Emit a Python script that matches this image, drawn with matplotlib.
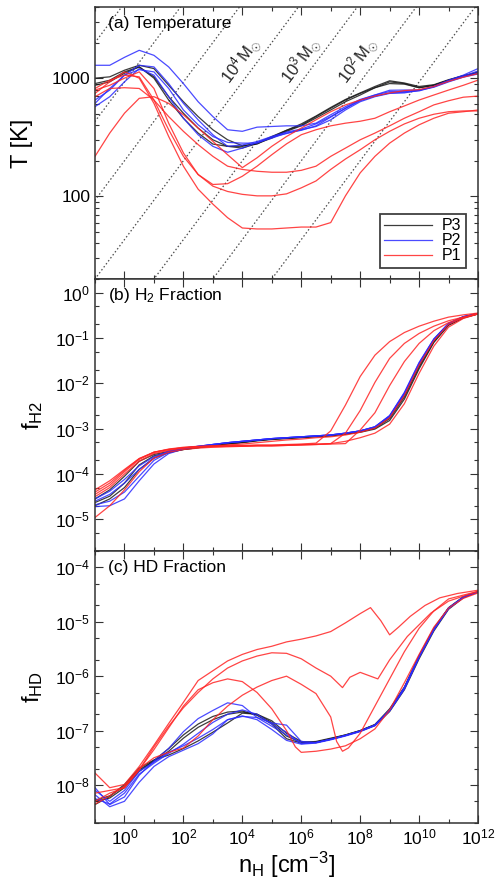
import numpy as np
import matplotlib.pyplot as plt
from matplotlib.ticker import FixedLocator, FixedFormatter, LogLocator, NullFormatter, LogFormatterSciNotation

plt.rcParams['font.family'] = ['Liberation Sans', 'DejaVu Sans']
plt.rcParams['mathtext.fontset'] = 'custom'
plt.rcParams['mathtext.rm'] = 'Liberation Sans'
plt.rcParams['mathtext.it'] = 'Liberation Sans:italic'
plt.rcParams['mathtext.bf'] = 'Liberation Sans:bold'

# log10 of n_H [cm^-3] where the curves were read
logn = [-1, -0.5, 0, 0.5, 1, 1.5, 2, 2.5, 3, 3.5, 4, 4.5, 5, 5.5, 6,
        6.5, 7, 7.5, 8, 8.5, 9, 9.5, 10, 10.5, 11, 11.5, 12]

# (a) temperature [K]
T_p3 = [
    [900, 960, 1130, 1245, 1000, 653, 458, 343, 277, 265, 265, 282, 321, 362, 400, 473, 556, 653, 743, 830, 930, 900, 830, 870, 960, 1040, 1130],
    [1000, 1026, 1167, 1285, 1205, 870, 632, 473, 366, 301, 268, 277, 317, 362, 410, 478, 565, 660, 750, 850, 950, 910, 850, 880, 970, 1050, 1110],
    [870, 931, 1100, 1245, 1026, 697, 505, 378, 301, 265, 256, 280, 311, 355, 395, 460, 538, 632, 720, 830, 900, 890, 830, 870, 960, 1050, 1094],
]
T_p2 = [
    [1285, 1285, 1500, 1720, 1560, 1245, 900, 632, 473, 366, 355, 385, 390, 395, 395, 416, 490, 574, 660, 720, 790, 793, 793, 850, 960, 1060, 1205],
    [653, 793, 1060, 1285, 1245, 900, 612, 444, 332, 265, 272, 291, 321, 350, 371, 410, 473, 556, 653, 720, 770, 770, 790, 850, 950, 1040, 1150],
    [574, 697, 931, 1205, 1060, 697, 458, 332, 265, 236, 256, 286, 311, 343, 362, 395, 468, 556, 644, 705, 750, 760, 780, 845, 940, 1026, 1110],
    [612, 818, 1060, 1180, 1130, 818, 538, 403, 321, 286, 282, 282, 317, 340, 366, 390, 444, 538, 632, 697, 743, 750, 790, 838, 930, 1020, 1085],
]
T_p1 = [
    [793, 870, 1000, 1130, 818, 416, 233, 153, 126, 128, 148, 180, 225, 278, 332, 366, 395, 416, 432, 458, 520, 582, 653, 720, 793, 870, 962],
    [697, 818, 830, 818, 653, 473, 355, 274, 218, 180, 169, 163, 160, 160, 166, 180, 218, 256, 301, 343, 395, 458, 520, 594, 644, 690, 705],
    [818, 962, 1060, 1026, 653, 366, 218, 153, 122, 110, 104, 101, 101, 105, 118, 135, 169, 207, 248, 301, 355, 410, 458, 495, 520, 528, 528],
    [743, 931, 1130, 1000, 612, 321, 180, 115, 86, 66, 54, 53, 53, 54, 55, 55, 60, 101, 158, 218, 282, 343, 403, 458, 505, 520, 538],
    [218, 343, 505, 675, 697, 612, 490, 378, 292, 225, 175, 212, 265, 321, 378, 444, 520, 594, 653, 705, 750, 785, 800, 850, 940, 1020, 1094],
]

# (b) log10 f_H2
fh2_p3 = [
    [-4.63, -4.49, -4.20, -3.80, -3.60, -3.52, -3.46, -3.42, -3.37, -3.33, -3.30, -3.26, -3.23, -3.21, -3.19, -3.17, -3.15, -3.11, -3.06, -2.98, -2.75, -2.26, -1.60, -1.05, -0.69, -0.54, -0.46],
    [-4.55, -4.35, -4.05, -3.72, -3.57, -3.50, -3.45, -3.41, -3.37, -3.33, -3.30, -3.26, -3.23, -3.21, -3.19, -3.17, -3.15, -3.12, -3.08, -3.01, -2.82, -2.35, -1.68, -1.10, -0.72, -0.56, -0.47],
    [-4.70, -4.55, -4.30, -3.90, -3.65, -3.53, -3.46, -3.42, -3.38, -3.34, -3.31, -3.27, -3.24, -3.22, -3.20, -3.18, -3.16, -3.12, -3.07, -2.99, -2.78, -2.30, -1.64, -1.08, -0.71, -0.55, -0.47],
]
fh2_p2 = [
    [-4.72, -4.70, -4.55, -4.15, -3.78, -3.55, -3.45, -3.40, -3.35, -3.31, -3.28, -3.25, -3.22, -3.20, -3.18, -3.16, -3.14, -3.10, -3.05, -2.96, -2.72, -2.22, -1.56, -1.03, -0.68, -0.53, -0.46],
    [-4.68, -4.60, -4.40, -4.05, -3.70, -3.52, -3.44, -3.39, -3.35, -3.31, -3.28, -3.25, -3.22, -3.20, -3.18, -3.16, -3.14, -3.10, -3.05, -2.96, -2.72, -2.22, -1.56, -1.03, -0.68, -0.53, -0.46],
    [-4.60, -4.45, -4.20, -3.90, -3.65, -3.50, -3.43, -3.39, -3.35, -3.31, -3.28, -3.25, -3.22, -3.20, -3.18, -3.16, -3.14, -3.10, -3.05, -2.97, -2.74, -2.24, -1.58, -1.04, -0.69, -0.54, -0.46],
    [-4.55, -4.38, -4.12, -3.82, -3.62, -3.50, -3.43, -3.39, -3.35, -3.31, -3.28, -3.25, -3.22, -3.20, -3.18, -3.16, -3.14, -3.10, -3.05, -2.96, -2.71, -2.20, -1.54, -1.02, -0.68, -0.53, -0.46],
]
fh2_p1 = [
    [-4.45, -4.25, -3.95, -3.68, -3.52, -3.45, -3.41, -3.39, -3.38, -3.37, -3.37, -3.36, -3.36, -3.35, -3.34, -3.32, -3.05, -2.48, -1.85, -1.38, -1.08, -0.88, -0.74, -0.63, -0.54, -0.49, -0.45],
    [-4.35, -4.15, -3.90, -3.66, -3.52, -3.46, -3.42, -3.40, -3.39, -3.38, -3.38, -3.37, -3.37, -3.36, -3.35, -3.34, -3.33, -3.10, -2.60, -1.98, -1.45, -1.12, -0.90, -0.74, -0.62, -0.54, -0.47],
    [-4.50, -4.30, -4.00, -3.72, -3.55, -3.48, -3.43, -3.41, -3.40, -3.39, -3.39, -3.38, -3.38, -3.37, -3.36, -3.35, -3.34, -3.33, -3.03, -2.65, -2.05, -1.52, -1.12, -0.84, -0.66, -0.55, -0.47],
    [-4.96, -4.70, -4.35, -3.95, -3.65, -3.52, -3.46, -3.43, -3.41, -3.40, -3.39, -3.38, -3.38, -3.37, -3.36, -3.35, -3.33, -3.28, -3.20, -3.10, -2.90, -2.45, -1.78, -1.18, -0.76, -0.57, -0.47],
    [-4.40, -4.20, -3.92, -3.66, -3.52, -3.46, -3.42, -3.40, -3.38, -3.36, -3.34, -3.31, -3.28, -3.25, -3.23, -3.20, -3.18, -3.14, -3.08, -2.99, -2.76, -2.27, -1.60, -1.06, -0.70, -0.55, -0.46],
]

# (c) log10 f_HD
fhd_p3 = [
    [-8.30, -8.24, -8.05, -7.75, -7.55, -7.33, -7.08, -6.88, -6.74, -6.66, -6.64, -6.72, -6.88, -7.15, -7.23, -7.21, -7.15, -7.08, -7.00, -6.89, -6.60, -6.20, -5.62, -5.12, -4.74, -4.54, -4.45],
    [-8.36, -8.21, -7.99, -7.69, -7.54, -7.45, -7.33, -7.19, -7.03, -6.86, -6.68, -6.70, -6.85, -7.10, -7.22, -7.20, -7.14, -7.08, -7.00, -6.89, -6.62, -6.22, -5.64, -5.14, -4.75, -4.55, -4.45],
    [-8.28, -8.20, -8.02, -7.72, -7.56, -7.38, -7.14, -6.94, -6.80, -6.70, -6.66, -6.70, -6.82, -7.05, -7.20, -7.22, -7.16, -7.09, -7.01, -6.91, -6.65, -6.25, -5.68, -5.17, -4.77, -4.56, -4.45],
]
fhd_p2 = [
    [-8.05, -8.36, -8.22, -7.82, -7.56, -7.33, -7.02, -6.78, -6.63, -6.49, -6.54, -6.76, -6.92, -7.08, -7.23, -7.22, -7.16, -7.09, -7.01, -6.90, -6.63, -6.22, -5.64, -5.14, -4.75, -4.55, -4.45],
    [-8.18, -8.40, -8.30, -7.95, -7.66, -7.48, -7.36, -7.24, -7.06, -6.80, -6.73, -6.80, -6.98, -7.18, -7.25, -7.23, -7.17, -7.10, -7.02, -6.91, -6.64, -6.24, -5.66, -5.15, -4.76, -4.55, -4.45],
    [-8.25, -8.35, -8.15, -7.80, -7.60, -7.42, -7.25, -7.05, -6.85, -6.70, -6.62, -6.70, -6.88, -7.03, -7.24, -7.22, -7.16, -7.09, -7.01, -6.90, -6.62, -6.21, -5.63, -5.13, -4.75, -4.55, -4.45],
    [-8.10, -8.30, -8.10, -7.75, -7.58, -7.40, -7.28, -7.14, -6.98, -6.80, -6.74, -6.76, -6.86, -6.90, -7.20, -7.22, -7.16, -7.09, -7.01, -6.90, -6.63, -6.22, -5.64, -5.14, -4.75, -4.55, -4.45],
]
# P1 HD curves have sharp features, so each keeps its own density samples
fhd_p1_logn = [
    [-1, -0.5, 0, 0.5, 1, 1.5, 2, 2.5, 3, 3.5, 4, 4.5, 5, 5.5, 6, 6.5, 7, 7.5, 8, 8.35, 8.7, 9.0, 9.3, 9.7, 10.2, 10.7, 11.3, 12],
    [-1, -0.5, 0, 0.5, 1, 1.5, 2, 2.5, 3, 3.5, 4, 4.5, 5, 5.5, 6, 6.5, 7, 7.4, 7.65, 8.0, 8.3, 8.6, 9.0, 9.6, 10.4, 11, 12],
    [-1, -0.5, 0, 0.5, 1, 1.5, 2, 2.5, 3, 3.5, 4, 4.5, 5, 5.5, 6, 6.5, 7, 7.2, 7.4, 7.6, 8.0, 8.5, 9.0, 9.5, 10, 10.5, 11, 12],
    [-1, -0.5, 0, 0.5, 1, 1.5, 2, 2.5, 3, 3.5, 4, 4.5, 5, 5.5, 5.8, 6.0, 6.5, 7, 7.5, 8, 8.5, 9, 9.5, 10, 10.5, 11, 11.5, 12],
]
fhd_p1 = [
    [-7.78, -8.05, -7.99, -7.66, -7.27, -6.87, -6.48, -6.08, -5.90, -5.72, -5.60, -5.51, -5.45, -5.37, -5.32, -5.26, -5.18, -5.02, -4.85, -4.74, -4.98, -5.24, -5.10, -4.90, -4.70, -4.56, -4.48, -4.42],
    [-8.15, -8.10, -8.05, -7.72, -7.30, -6.92, -6.58, -6.30, -6.05, -5.85, -5.72, -5.63, -5.57, -5.58, -5.68, -5.85, -6.00, -6.21, -6.02, -5.93, -5.99, -6.05, -5.70, -5.27, -4.84, -4.62, -4.44],
    [-8.35, -8.20, -8.02, -7.70, -7.50, -7.40, -7.32, -7.10, -6.80, -6.55, -6.35, -6.20, -6.08, -6.00, -6.15, -6.32, -6.75, -7.20, -7.38, -7.32, -7.05, -6.55, -6.05, -5.55, -5.12, -4.80, -4.58, -4.44],
    [-8.30, -8.15, -8.05, -7.72, -7.35, -6.95, -6.55, -6.25, -6.12, -6.05, -6.10, -6.30, -6.60, -7.00, -7.30, -7.40, -7.38, -7.34, -7.28, -7.15, -6.97, -6.62, -6.12, -5.60, -5.10, -4.75, -4.57, -4.47],
]

# Jeans mass lines, M_J = 1000 Msun (T/200K)^1.5 (n/1e4)^-0.5
jeans_masses = [1e1, 1e2, 1e3, 1e4, 1e5, 1e6, 1e7]
jeans_labels = {1e4: 3.93, 1e3: 5.97, 1e2: 7.93}   # log n of each label

groups = ['P3', 'P2', 'P1']
colors = {'P3': '#1a1a1a', 'P2': '#2b2bff', 'P1': '#ff2424'}

fig = plt.figure(figsize=(4.98, 8.84), dpi=100)
left, width, h = 0.1908, 0.7691, 0.3077
ax_a = fig.add_axes([left, 0.6844, width, h])
ax_b = fig.add_axes([left, 0.3767, width, h])
ax_c = fig.add_axes([left, 0.0690, width, h])

n = 10.0 ** np.array(logn)
lw = 0.9

for name, curves in zip(groups, [T_p3, T_p2, T_p1]):
    for i, T in enumerate(curves):
        ax_a.plot(n, T, color=colors[name], lw=lw, alpha=0.85,
                  label=name if i == 0 else None)
for name, curves in zip(groups, [fh2_p3, fh2_p2, fh2_p1]):
    for f in curves:
        ax_b.plot(n, 10.0 ** np.array(f), color=colors[name], lw=lw, alpha=0.85)
for name, curves in zip(groups[:2], [fhd_p3, fhd_p2]):
    for f in curves:
        ax_c.plot(n, 10.0 ** np.array(f), color=colors[name], lw=lw, alpha=0.85)
for x, f in zip(fhd_p1_logn, fhd_p1):
    ax_c.plot(10.0 ** np.array(x), 10.0 ** np.array(f), color=colors['P1'], lw=lw, alpha=0.85)

# Jeans mass lines
nline = np.logspace(-2, 13, 200)
for M in jeans_masses:
    Tline = 200.0 * (M / 1000.0) ** (2 / 3) * (nline / 1e4) ** (1 / 3)
    ax_a.plot(nline, Tline, ls=(0, (1.2, 1.8)), color='0.3', lw=0.9, zorder=1)
for M, lx in jeans_labels.items():
    ax_a.text(10 ** lx, 10 ** 3.15, r'$10^{%d}\,\mathrm{M}_{\odot}$' % round(np.log10(M)),
              rotation=53, ha='center', va='center', fontsize=12, color='0.15')

for ax in (ax_a, ax_b, ax_c):
    ax.set_xscale('log')
    ax.set_yscale('log')
    ax.set_xlim(1e-1, 1e12)
    ax.xaxis.set_major_locator(FixedLocator([10.0 ** k for k in range(0, 13, 2)]))
    ax.xaxis.set_minor_locator(FixedLocator([10.0 ** k for k in range(-1, 12, 2)]))
    ax.xaxis.set_minor_formatter(NullFormatter())
    ax.tick_params(which='both', direction='in', top=True, right=True,
                   labelsize=12.5, width=0.8, color='0.2')
    ax.tick_params(which='major', length=6)
    ax.tick_params(which='minor', length=3)
    for s in ax.spines.values():
        s.set_linewidth(1.1)
        s.set_color('0.2')

ax_a.tick_params(labelbottom=False)
ax_b.tick_params(labelbottom=False)
ax_c.xaxis.set_major_formatter(LogFormatterSciNotation())

ax_a.set_ylim(20, 4000)
ax_a.yaxis.set_major_locator(FixedLocator([100, 1000]))
ax_a.yaxis.set_major_formatter(FixedFormatter(['100', '1000']))
ax_a.yaxis.set_minor_locator(LogLocator(base=10, subs=np.arange(2, 10), numticks=20))
ax_a.yaxis.set_minor_formatter(NullFormatter())

ax_b.set_ylim(2e-6, 2)
ax_b.yaxis.set_major_locator(FixedLocator([10.0 ** k for k in range(-5, 1)]))
ax_b.yaxis.set_major_formatter(LogFormatterSciNotation())
ax_b.yaxis.set_minor_locator(LogLocator(base=10, subs=(2, 5), numticks=20))
ax_b.yaxis.set_minor_formatter(NullFormatter())

ax_c.set_ylim(2e-9, 2e-4)
ax_c.yaxis.set_major_locator(FixedLocator([10.0 ** k for k in range(-8, -3)]))
ax_c.yaxis.set_major_formatter(LogFormatterSciNotation())
ax_c.yaxis.set_minor_locator(LogLocator(base=10, subs=(2, 5), numticks=20))
ax_c.yaxis.set_minor_formatter(NullFormatter())

ax_a.set_ylabel('T [K]', fontsize=17)
ax_a.yaxis.set_label_coords(-0.162, 0.5)
ax_b.set_ylabel(r'$\mathrm{f}_{\mathrm{H2}}$', fontsize=17)
ax_b.yaxis.set_label_coords(-0.13, 0.5)
ax_c.set_ylabel(r'$\mathrm{f}_{\mathrm{HD}}$', fontsize=17)
ax_c.yaxis.set_label_coords(-0.13, 0.5)
ax_c.set_xlabel(r'$\mathrm{n_H}$ [cm$^{-3}$]', fontsize=17)
ax_c.xaxis.set_label_coords(0.5, -0.10)

ax_a.text(0.034, 0.94, '(a) Temperature', transform=ax_a.transAxes, fontsize=12.5, va='center')
ax_b.text(0.034, 0.94, r'(b) H$_2$ Fraction', transform=ax_b.transAxes, fontsize=12.5, va='center')
ax_c.text(0.034, 0.94, '(c) HD Fraction', transform=ax_c.transAxes, fontsize=12.5, va='center')

leg = ax_a.legend(loc='lower right', bbox_to_anchor=(0.969, 0.04), borderaxespad=0,
                  fontsize=11.5, labelspacing=0.0, handlelength=3.0, handletextpad=0.6,
                  fancybox=False, framealpha=1, borderpad=0.3)
leg.get_frame().set_edgecolor('0.25')
leg.get_frame().set_linewidth(1.3)

fig.savefig('out.png', dpi=100)
